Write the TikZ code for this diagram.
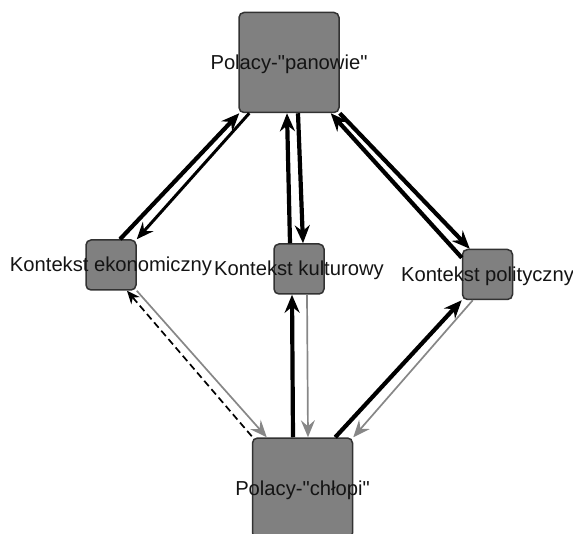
\documentclass[tikz,border=0pt]{standalone}
\usepackage{fontspec}
\setmainfont{Liberation Sans}
% plain family without TeX ligature mapping, so " stays a straight quote
\newfontfamily\lblfont{Liberation Sans}
\usetikzlibrary{arrows.meta}
\definecolor{boxfill}{RGB}{128,128,128}
\definecolor{boxline}{RGB}{50,50,50}
\definecolor{txt}{RGB}{20,20,20}
\definecolor{softgray}{RGB}{135,135,135}

\tikzset{
  box/.style={draw=boxline, line width=1.5pt, fill=boxfill, rounded corners=5pt, inner sep=0pt},
  smallbox/.style={box, minimum width=50pt, minimum height=50pt},
  bigbox/.style={box, minimum width=100pt, minimum height=100pt},
  lbl/.style={text=txt, font=\lblfont\fontsize{20.2}{22}\selectfont, inner sep=0pt, anchor=base},
  strong/.style={line width=4.2pt, -{Stealth[length=18pt,width=15pt,inset=6pt]}},
  medium/.style={line width=3pt, -{Stealth[length=17pt,width=14pt,inset=6pt]}},
  faint/.style={draw=softgray, line width=1.7pt, -{Stealth[length=17pt,width=14pt,inset=6pt,fill=softgray]}},
  dashline/.style={dash pattern=on 7pt off 4pt, line width=1.7pt, -{Stealth[length=13pt,width=11pt,inset=4pt]}},
}

\begin{document}
\begin{tikzpicture}[x=1pt,y=-1pt]
  \useasboundingbox (0,0) rectangle (573,534);
  \clip (0,0) rectangle (573,534);

  % boxes
  \node[bigbox]   (top) at (289,62.5)  {};
  \node[smallbox] (eco) at (111,265)   {};
  \node[smallbox] (mid) at (299,269)   {};
  \node[smallbox] (pol) at (487.5,274.5) {};
  \node[bigbox]   (chl) at (302.5,488) {};

  % labels, centred on their boxes
  \node[lbl] (topl) at ([yshift=-7pt]top.center) {Polacy-"panowie"};
  \node[lbl] (ecol) at ([yshift=-7pt]eco.center) {Kontekst ekonomiczny};
  \node[lbl] (midl) at ([yshift=-7pt]mid.center) {Kontekst kulturowy};
  \node[lbl] (poll) at ([yshift=-7pt]pol.center) {Kontekst polityczny};
  \node[lbl] (chll) at ([yshift=-7pt]chl.center) {Polacy-"chłopi"};

  % upper connectors
  \draw[strong] ([xshift=9pt]eco.north) -- ([xshift=1pt]top.south west);
  \draw[medium] ([xshift=11pt]top.south west) -- (eco.north east);
  \draw[strong] ([xshift=-9pt]mid.north) -- ([xshift=-2pt]top.south);
  \draw[strong] ([xshift=9pt]top.south) -- ([xshift=4pt]mid.north);
  \draw[strong] (top.south east) -- ([xshift=8pt]pol.north west);
  \draw[strong] ([yshift=-9pt]pol.north west) -- ([xshift=-9pt]top.south east);

  % lower connectors
  \draw[dashline] ([yshift=1pt]chl.north west) -- ([xshift=16pt]eco.south);
  \draw[faint] (eco.south east) -- ([xshift=15pt]chl.north west);
  \draw[strong] ([xshift=-9.5pt]chl.north) -- ([xshift=-7pt]mid.south);
  \draw[faint] ([xshift=8pt]mid.south) -- ([xshift=5.5pt]chl.north);
  \draw[strong] ([xshift=-18pt]chl.north east) -- (pol.south west);
  \draw[faint] ([xshift=11pt]pol.south west) -- (chl.north east);
\end{tikzpicture}
\end{document}
